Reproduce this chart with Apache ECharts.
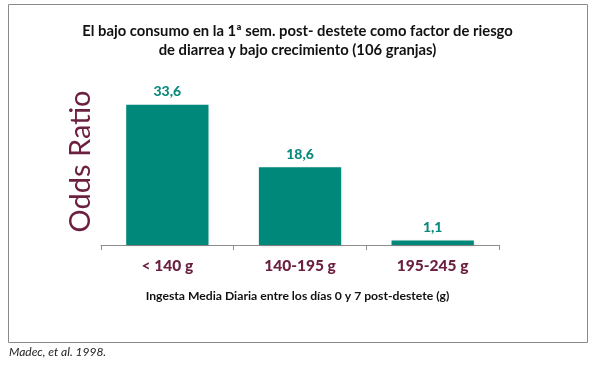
<!DOCTYPE html>
<html><head><meta charset="utf-8">
<script src="https://cdn.jsdelivr.net/npm/echarts@6/dist/echarts.min.js"></script>
<style>html,body{margin:0;padding:0;background:#fff}#c{width:595px;height:366px}</style>
</head><body><div id="c"></div>
<script>
const categories = ['< 140 g', '140-195 g', '195-245 g'];
const oddsRatio = [33.6, 18.6, 1.1];
const valueLabels = ['33,6', '18,6', '1,1'];
const titleText = 'El bajo consumo en la 1ª sem. post- destete como factor de riesgo\nde diarrea y bajo crecimiento (106 granjas)';
const xName = 'Ingesta Media Diaria entre los días 0 y 7 post-destete (g)';
const yName = 'Odds Ratio';
const sourceText = 'Madec, et al. 1998.';

const chart = echarts.init(document.getElementById('c'), null, {renderer: 'canvas'});
const font = 'Lato, "Open Sans", sans-serif';
chart.setOption({
  animation: false,
  textStyle: {fontFamily: font},
  title: {
    text: titleText, left: 'center', top: 17,
    textStyle: {fontFamily: font, fontSize: 14.8, fontWeight: 'bold', color: '#111', lineHeight: 19}
  },
  graphic: [
    {type: 'rect', shape: {x: 8.5, y: 4.5, width: 579, height: 338}, style: {fill: 'none', stroke: '#8a8a8a', lineWidth: 1}, z: -1},
    {type: 'text', left: 9, top: 346, style: {text: sourceText, font: 'italic 12px ' + font, fill: '#222'}},
    {type: 'text', left: 'center', top: 290, style: {text: xName, font: 'bold 12.2px ' + font, fill: '#111'}}
  ],
  grid: {left: 101, right: 96, top: 78, bottom: 121},
  xAxis: {
    type: 'category', data: categories,
    axisLine: {lineStyle: {color: '#8c8c8c', width: 1}},
    axisTick: {show: true, length: 5, lineStyle: {color: '#8c8c8c'}, alignWithLabel: false},
    axisLabel: {margin: 13, fontSize: 15.5, fontWeight: 900, color: '#6b2040', fontFamily: font}
  },
  yAxis: {
    type: 'value', min: 0, max: 40, show: true,
    name: yName, nameLocation: 'middle', nameGap: 6, nameRotate: 90,
    nameTextStyle: {fontSize: 29, color: '#6b2040', fontFamily: font},
    axisLine: {show: false}, axisTick: {show: false}, axisLabel: {show: false}, splitLine: {show: false}
  },
  series: [{
    type: 'bar', data: oddsRatio, barCategoryGap: '38%',
    itemStyle: {color: '#00897a', shadowColor: 'rgba(0,0,0,0.15)', shadowBlur: 3, shadowOffsetX: 1, shadowOffsetY: 1},
    label: {
      show: true, position: 'top', distance: 6,
      formatter: p => valueLabels[p.dataIndex],
      fontSize: 14, fontWeight: 900, color: '#0a8a7c', fontFamily: font
    }
  }]
});
</script></body></html>
